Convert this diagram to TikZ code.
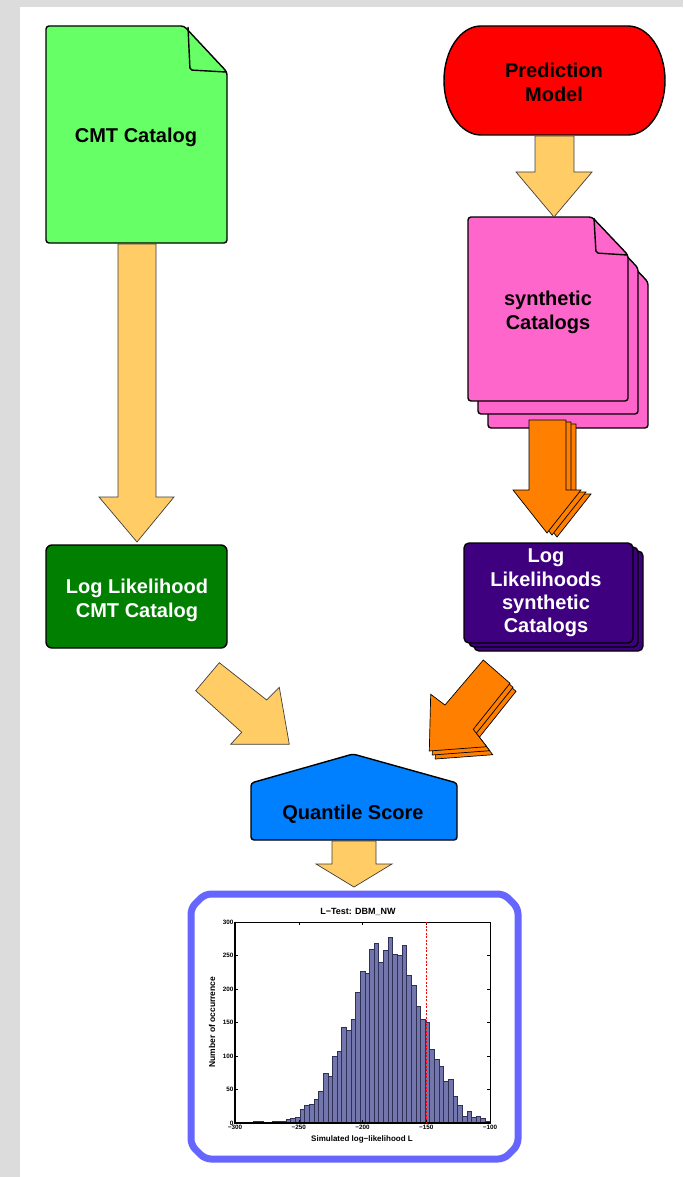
\documentclass[tikz,border=0pt]{standalone}
\usepackage{fontspec}
\setmainfont{Liberation Sans}
\definecolor{bggray}{HTML}{DCDCDC}
\definecolor{lgreen}{HTML}{66FF66}
\definecolor{predred}{HTML}{FF0000}
\definecolor{pinkc}{HTML}{FF66CC}
\definecolor{lorange}{HTML}{FFCC66}
\definecolor{orangec}{HTML}{FF8000}
\definecolor{dgreen}{HTML}{007F00}
\definecolor{purplec}{HTML}{3F007F}
\definecolor{bluec}{HTML}{0080FF}
\definecolor{framec}{HTML}{6666FF}
\definecolor{barfill}{HTML}{7276AC}
\definecolor{bardraw}{HTML}{2E3055}
\begin{document}
\begin{tikzpicture}[x=1pt,y=-1pt,
  shapeline/.style={draw=black, line width=1.4pt, line join=round},
  blockarrow/.style={draw=black!75, line width=0.7pt, line join=miter},
  lbl/.style={font=\fontsize{20}{24}\selectfont\bfseries, align=center, inner sep=0pt},
  ticklbl/.style={font=\fontsize{6.3}{7}\selectfont\bfseries, inner sep=0.5pt},
  axlbl/.style={font=\fontsize{8}{9}\selectfont\bfseries, inner sep=0pt}]
\useasboundingbox (0,0) rectangle (683,1177);
\fill[bggray] (0,0) rectangle (683,1177);
\fill[white] (20,7) rectangle (683,1177);

% ---------- CMT Catalog document ----------
\draw[shapeline, fill=lgreen, rounded corners=3] (46,26) -- (184,26) -- (227,72) -- (227,243) -- (46,243) -- cycle;
\draw[shapeline, rounded corners=2] (188,27) -- (190,70) -- (226,72);
\node[lbl, anchor=base] (cmt) at (136,143) {CMT Catalog};

% ---------- Prediction Model ----------
\draw[shapeline, fill=predred] (481,26) -- (628,26)
  .. controls (648.4,26) and (665,50.4) .. (665,80.5)
  .. controls (665,110.6) and (648.4,135) .. (628,135)
  -- (481,135)
  .. controls (460.6,135) and (444,110.6) .. (444,80.5)
  .. controls (444,50.4) and (460.6,26) .. cycle;
\node[lbl] (pred) at (554,82) {Prediction\\Model};

% ---------- synthetic Catalogs (stack) ----------
\foreach \dx/\dy in {20/27,10/13}{
  \draw[shapeline, fill=pinkc, rounded corners=3, shift={(\dx,\dy)}] (468,217) -- (592,217) -- (628,255) -- (628,401) -- (468,401) -- cycle;
}
\draw[shapeline, fill=pinkc, rounded corners=3] (468,217) -- (592,217) -- (628,255) -- (628,401) -- (468,401) -- cycle;
\draw[shapeline, rounded corners=2] (594,218) -- (596,253) -- (627,255);
\node[lbl] (synth) at (548,312) {synthetic\\Catalogs};

% ---------- Log Likelihood CMT Catalog ----------
\draw[shapeline, fill=dgreen, rounded corners=6] (46,545) rectangle (227,648);
\node[lbl, text=white] (llcmt) at (137,600) {Log Likelihood\\CMT Catalog};

% ---------- Log Likelihoods synthetic Catalogs (stack) ----------
\foreach \dx/\dy in {10/8,5/4}{
  \draw[shapeline, fill=purplec, rounded corners=5, shift={(\dx,\dy)}] (464,543) rectangle (633,643);
}
\draw[shapeline, fill=purplec, rounded corners=5] (464,543) rectangle (633,643);
\node[lbl, text=white, font=\fontsize{20}{23.4}\selectfont\bfseries] (llsyn) at (546,593) {Log\\Likelihoods\\synthetic\\Catalogs};

% ---------- Quantile Score ----------
\draw[shapeline, fill=bluec, rounded corners=3] (251,840) -- (251,783) -- (353,754) -- (457,783) -- (457,840) -- cycle;
\node[lbl, anchor=base] (qs) at (353,819) {Quantile Score};

% ---------- block arrows ----------
% Prediction -> synthetic
\draw[blockarrow, fill=lorange] (535,136) -- (574,136) -- (574,172) -- (592,172) -- (554,217) -- (516,172) -- (535,172) -- cycle;
% CMT -> Log Likelihood
\draw[blockarrow, fill=lorange] (118,244) -- (156,244) -- (156,497) -- (174,497) -- (137,542) -- (99,497) -- (118,497) -- cycle;
% synthetic -> Log Likelihoods (stacked)
\foreach \dx/\dy in {10/4,5/2,0/0}{
  \draw[blockarrow, draw=black, fill=orangec, shift={(\dx,\dy)}] (529,420) -- (566,420) -- (566,490) -- (581,490) -- (547,533) -- (513,490) -- (529,490) -- cycle;
}
% Log Likelihood CMT -> Quantile
\draw[blockarrow, fill=lorange] (195.7,690.7) -- (219.3,662.7) -- (266.7,700) -- (279.3,687.3) -- (289.3,744.3) -- (230.7,744.3) -- (241.7,732.3) -- cycle;
% Log Likelihoods synthetic -> Quantile (stacked)
\foreach \dx/\dy in {6/8,3/4,0/0}{
  \draw[blockarrow, draw=black, fill=orangec, shift={(\dx,\dy)}] (483.3,660) -- (510,683.3) -- (473.3,729.3) -- (486.7,746.7) -- (429.3,751) -- (430.7,694.3) -- (445,705) -- cycle;
}
% Quantile -> histogram
\draw[blockarrow, fill=lorange] (332,841) -- (376,841) -- (376,864) -- (392,864) -- (354,887) -- (316,864) -- (332,864) -- cycle;

% ---------- histogram frame ----------
\draw[draw=framec, line width=7pt, rounded corners=6] (205,894) -- (504,894) -- (518,908) -- (518,1145) -- (504,1159) -- (205,1159) -- (191,1145) -- (191,908) -- cycle;

% ---------- histogram ----------
\foreach \h [count=\i from 0] in {1,1,1,0,3,2,1,1,2,3,3,5,7,8,20,27,28,35,47,75,70,100,107,143,138,155,195,227,223,260,268,240,258,278,252,250,265,220,205,175,155,150,110,95,85,62,65,40,27,10,18,8,10,7,3}{
  \filldraw[fill=barfill, draw=bardraw, line width=0.45pt] ({235+\i*4.636},1123) rectangle ({235+(\i+1)*4.636},{1123-\h*0.67});
}
\draw[line width=0.7pt] (235,922) rectangle (490,1123);
\draw[line width=1.2pt] (235,922) -- (235,1123) -- (490,1123);
\foreach \v in {0,50,...,300}{
  \draw[line width=0.5pt] (235,{1123-0.67*\v}) -- (238,{1123-0.67*\v});
  \draw[line width=0.5pt] (490,{1123-0.67*\v}) -- (487,{1123-0.67*\v});
  \node[ticklbl, anchor=east] (yt\v) at (234,{1123-0.67*\v}) {\v};
}
\foreach \v/\t in {0/−300,50/−250,100/−200,150/−150,200/−100}{
  \draw[line width=0.5pt] ({235+1.275*\v},1123) -- ({235+1.275*\v},1120);
  \draw[line width=0.5pt] ({235+1.275*\v},922) -- ({235+1.275*\v},925);
  \node[ticklbl, anchor=north] (xt\v) at ({235+1.275*\v},1124.5) {\t};
}
\draw[red, line width=0.8pt, dash pattern=on 2pt off 1.5pt] (426.25,922) -- (426.25,1123);
\node[axlbl, font=\fontsize{9}{10}\selectfont\bfseries] (htitle) at (358,912) {L−Test: DBM\_NW};
\node[axlbl] (hxlab) at (362,1139) {Simulated log−likelihood L};
\node[axlbl, rotate=90, font=\fontsize{8.5}{9}\selectfont\bfseries] (hylab) at (212,1022) {Number of occurrence};
\end{tikzpicture}
\end{document}
